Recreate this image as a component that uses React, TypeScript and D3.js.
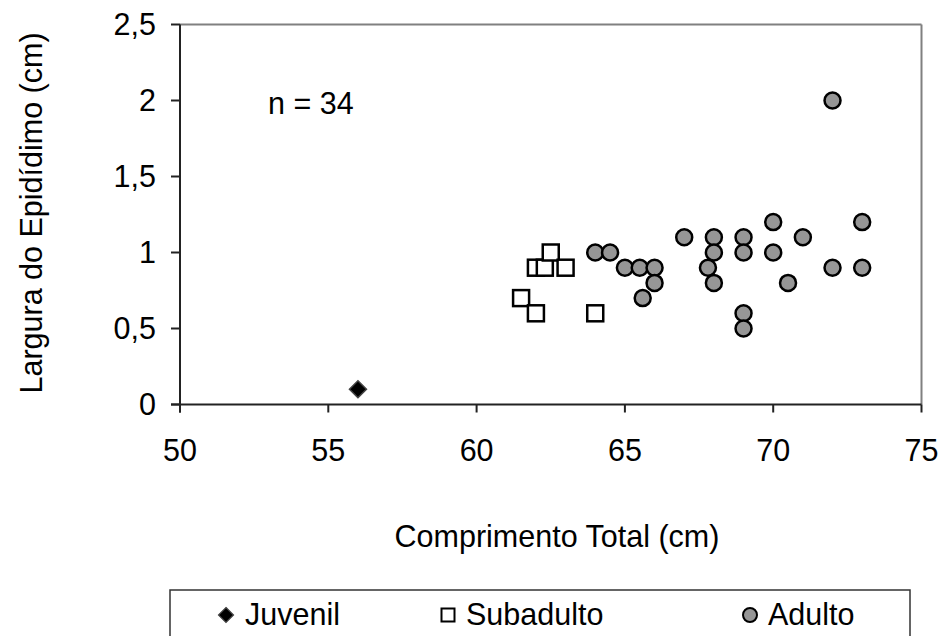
import React from "react";
import * as d3 from "d3";

// Comprimento total (cm) x largura do epidídimo (cm), by age class
const juvenilX = [56];
const juvenilY = [0.1];

const subadultoX = [61.5, 62, 62, 62.3, 62.5, 63, 64];
const subadultoY = [0.7, 0.6, 0.9, 0.9, 1.0, 0.9, 0.6];

const adultoX = [
  64, 64.5, 65, 65.5, 66, 66, 65.6, 67, 67.8, 68, 68, 68, 69, 69, 69, 69, 70,
  70, 70.5, 71, 72, 72, 73, 73,
];
const adultoY = [
  1.0, 1.0, 0.9, 0.9, 0.9, 0.8, 0.7, 1.1, 0.9, 1.1, 1.0, 0.8, 1.1, 1.0, 0.6,
  0.5, 1.2, 1.0, 0.8, 1.1, 2.0, 0.9, 1.2, 0.9,
];

const xTicks = [50, 55, 60, 65, 70, 75];
const yTicks = [0, 0.5, 1, 1.5, 2, 2.5];
const yTickLabels = ["0", "0,5", "1", "1,5", "2", "2,5"];

const legendLabels = ["Juvenil", "Subadulto", "Adulto"];
const sampleNote = "n = 34";

const W = 942;
const H = 636;
const FONT = "Arial, 'Liberation Sans', sans-serif";
const FS = 30.5;

export default function App() {
  const x = d3.scaleLinear().domain([50, 75]).range([180, 921.5]);
  const y = d3.scaleLinear().domain([0, 2.5]).range([404.5, 24.5]);

  const diamond = (cx: number, cy: number, r: number) =>
    `M${cx},${cy - r}L${cx + r},${cy}L${cx},${cy + r}L${cx - r},${cy}Z`;

  const [x0, x1] = x.range();
  const [y0, y1] = y.range();

  return (
    <svg
      width={W}
      height={H}
      style={{ position: "absolute", left: 0, top: 0, background: "#fff" }}
      fontFamily={FONT}
    >
      <rect x={0} y={0} width={W} height={H} fill="#fff" />

      {/* frame: grey top/right, black axes */}
      <line x1={x0} x2={x1} y1={y1} y2={y1} stroke="#808080" strokeWidth={2} />
      <line x1={x1} x2={x1} y1={y1} y2={y0} stroke="#808080" strokeWidth={2} />
      <line x1={x0} x2={x0} y1={y1} y2={y0 + 8} stroke="#222" strokeWidth={2} />
      <line x1={x0 - 9} x2={x1} y1={y0} y2={y0} stroke="#222" strokeWidth={2} />

      {/* y ticks */}
      {yTicks.map((t, i) => (
        <g key={"yt" + i}>
          <line x1={x0 - 9} x2={x0} y1={y(t)} y2={y(t)} stroke="#222" strokeWidth={2} />
          <text
            x={156}
            y={y(t)}
            dy="0.36em"
            textAnchor="end"
            fontSize={FS}
            fill="#000"
          >
            {yTickLabels[i]}
          </text>
        </g>
      ))}

      {/* x ticks */}
      {xTicks.map((t) => (
        <g key={"xt" + t}>
          <line x1={x(t)} x2={x(t)} y1={y0} y2={y0 + 8} stroke="#222" strokeWidth={2} />
          <text x={x(t)} y={461} textAnchor="middle" fontSize={FS} fill="#000">
            {t}
          </text>
        </g>
      ))}

      {/* axis titles */}
      <text x={557} y={547} textAnchor="middle" fontSize={FS} fill="#000">
        Comprimento Total (cm)
      </text>
      <text
        transform={`translate(41.5,213) rotate(-90)`}
        textAnchor="middle"
        fontSize={FS}
        fill="#000"
      >
        Largura do Epidídimo (cm)
      </text>

      <text x={268} y={114} fontSize={FS} fill="#000">
        {sampleNote}
      </text>

      {/* Subadulto */}
      {subadultoX.map((v, i) => (
        <rect
          key={"s" + i}
          x={x(v) - 8}
          y={y(subadultoY[i]) - 8}
          width={16}
          height={16}
          fill="#fff"
          stroke="#000"
          strokeWidth={2.5}
        />
      ))}

      {/* Adulto */}
      {adultoX.map((v, i) => (
        <circle
          key={"a" + i}
          cx={x(v)}
          cy={y(adultoY[i])}
          r={8}
          fill="#969696"
          stroke="#000"
          strokeWidth={2.5}
        />
      ))}

      {/* Juvenil */}
      {juvenilX.map((v, i) => (
        <path
          key={"j" + i}
          d={diamond(x(v), y(juvenilY[i]), 8.5)}
          fill="#000"
          stroke="#444"
          strokeWidth={1.5}
        />
      ))}

      {/* legend */}
      <rect x={170} y={590} width={740} height={60} fill="#fff" stroke="#333" strokeWidth={1.5} />
      <path d={diamond(226, 615, 7.5)} fill="#000" stroke="#444" strokeWidth={1.2} />
      <text x={245} y={625} fontSize={FS} fill="#000">
        {legendLabels[0]}
      </text>
      <rect x={441.5} y={608.5} width={13} height={13} fill="#fff" stroke="#000" strokeWidth={2} />
      <text x={466} y={625} fontSize={FS} fill="#000">
        {legendLabels[1]}
      </text>
      <circle cx={750} cy={615} r={7} fill="#969696" stroke="#000" strokeWidth={2} />
      <text x={768} y={625} fontSize={FS} fill="#000">
        {legendLabels[2]}
      </text>
    </svg>
  );
}
